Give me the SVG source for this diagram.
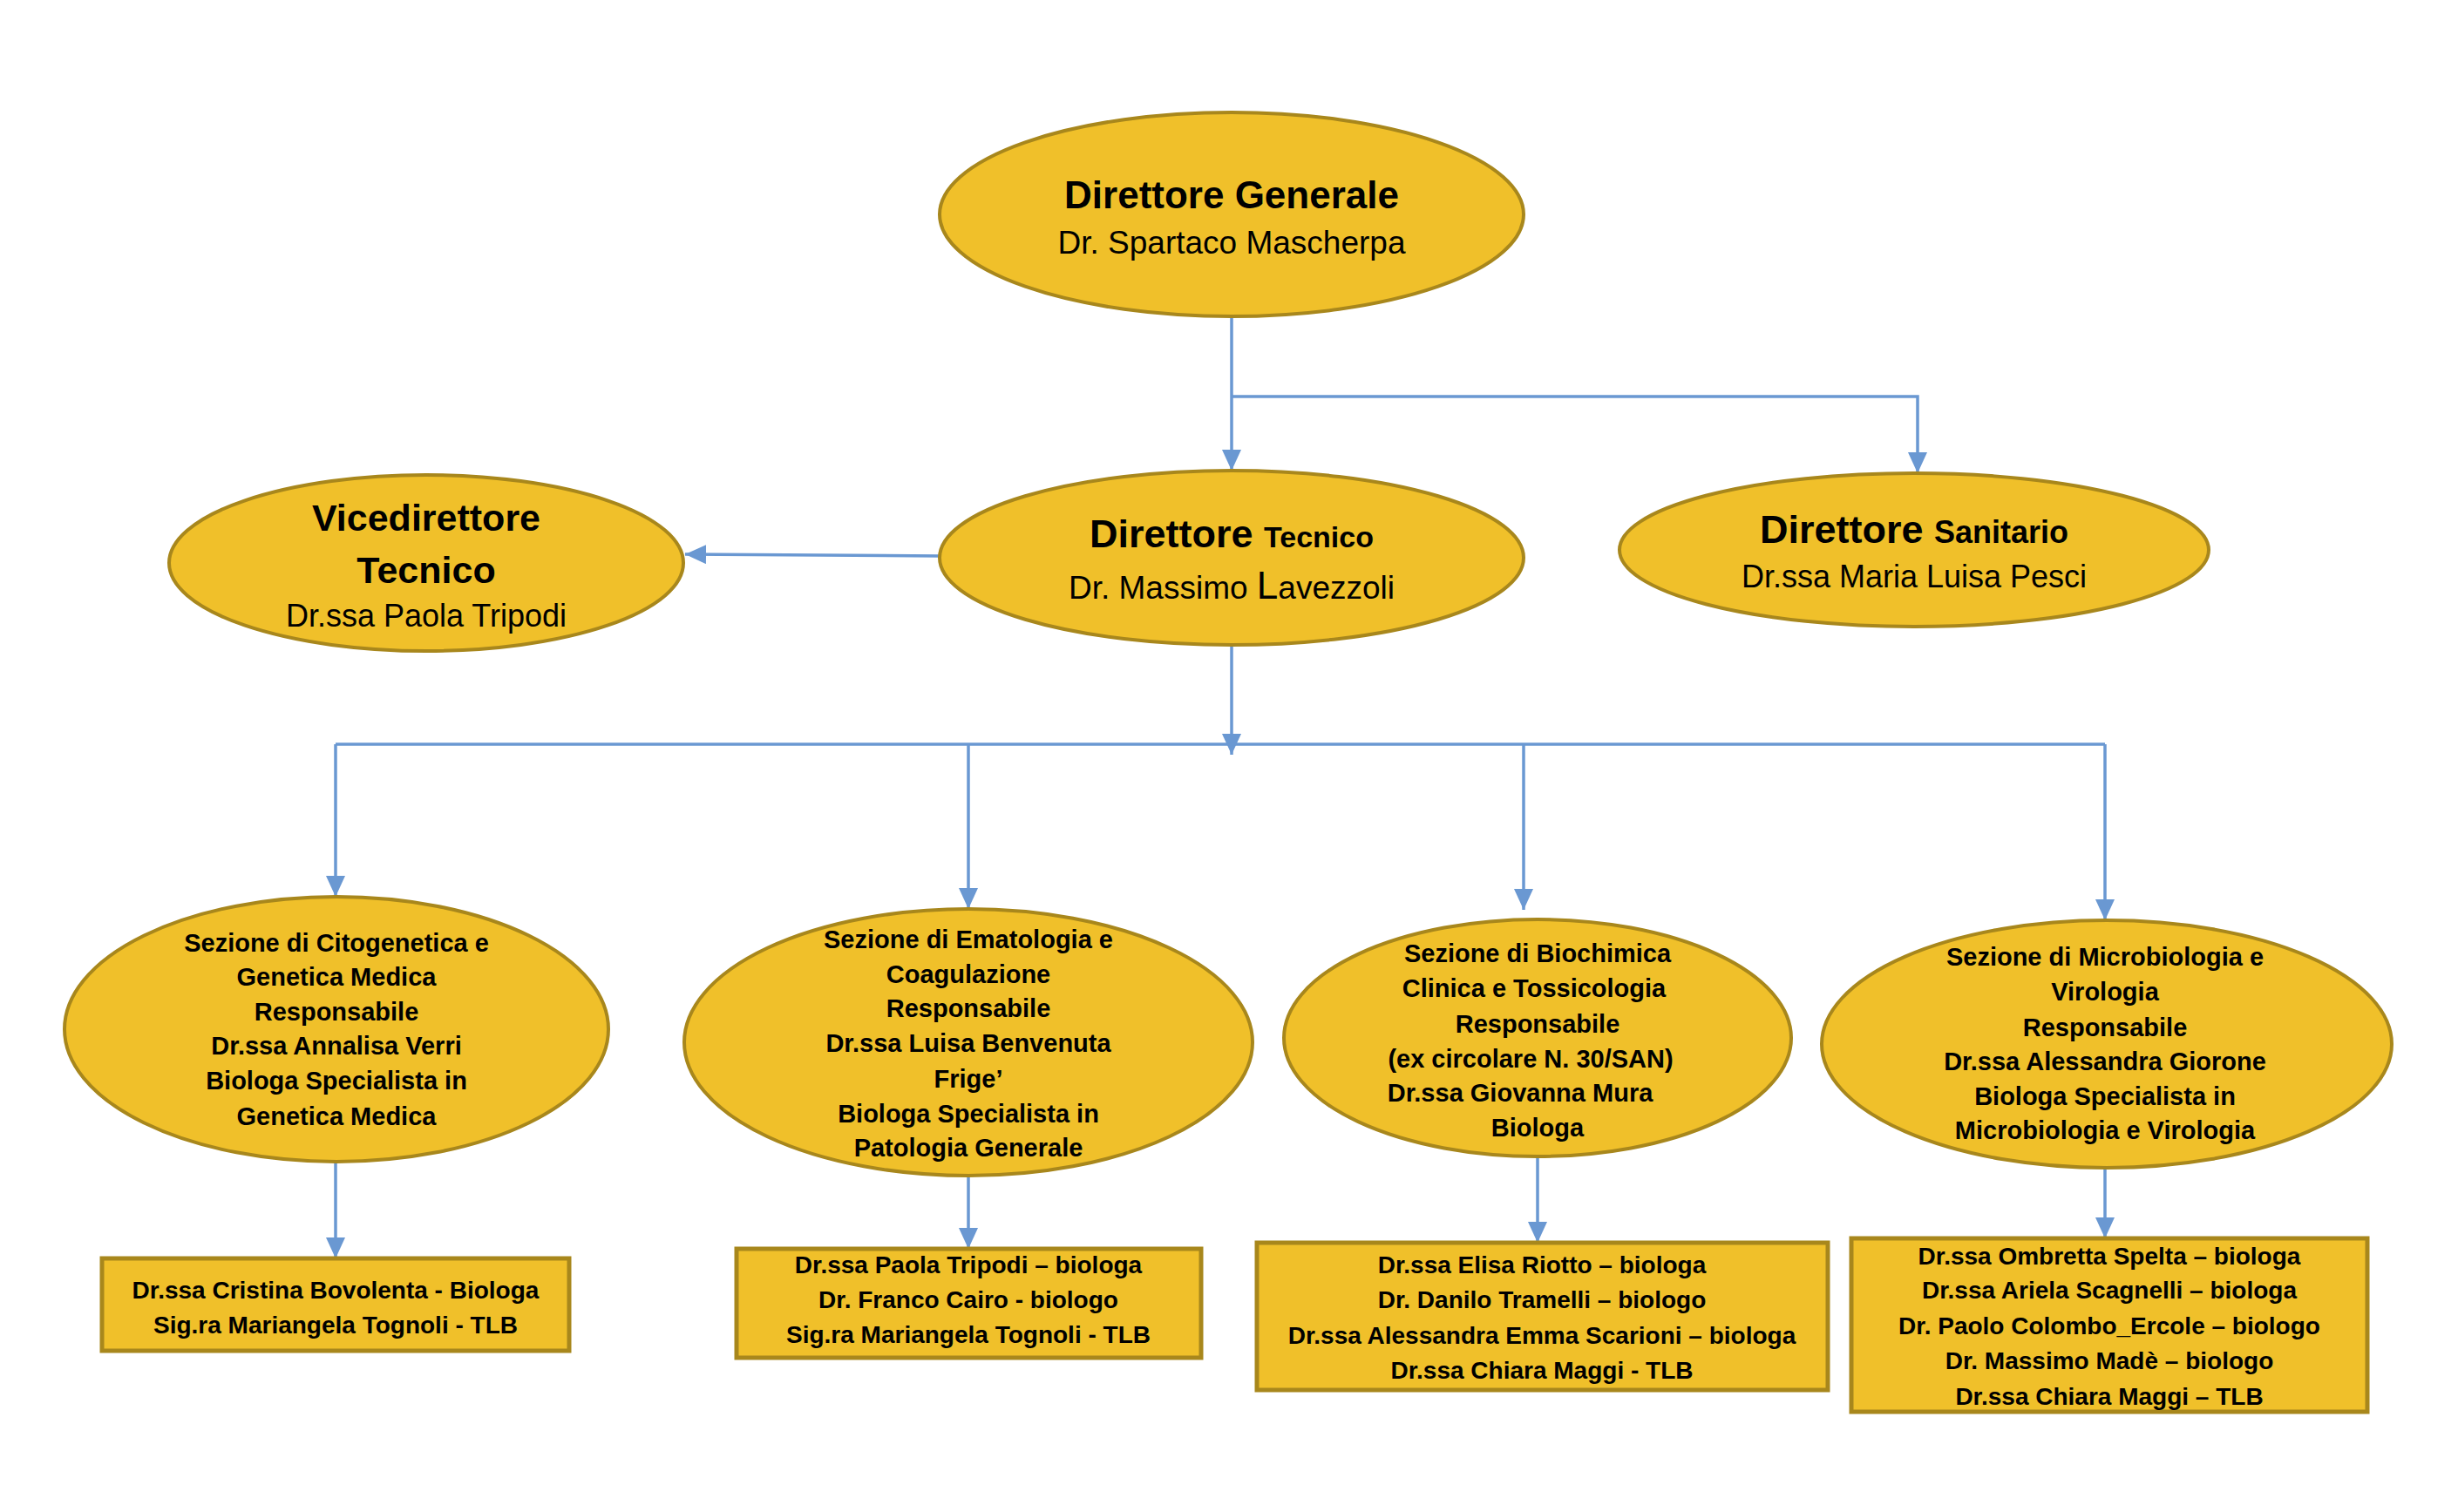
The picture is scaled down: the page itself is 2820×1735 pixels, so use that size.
<svg xmlns="http://www.w3.org/2000/svg" width="2820" height="1735" viewBox="0 0 2820 1735">
<defs>
<marker id="ah" markerUnits="userSpaceOnUse" markerWidth="24" markerHeight="22" refX="24" refY="11" orient="auto">
<path d="M0,0 L24,11 L0,22 Z" fill="#6A98D2"/>
</marker>
<style>
.el{fill:#F0C02A;stroke:#A8871C;stroke-width:4}
.bx{fill:#F0C02A;stroke:#A8871C;stroke-width:5}
.cn{fill:none;stroke:#6A98D2;stroke-width:3.5}
text{font-family:"Liberation Sans",Arial,sans-serif;fill:#000;text-anchor:middle}
.b{font-weight:bold}
.s{font-weight:bold;font-size:29px}
.t{font-weight:bold;font-size:28px}
</style>
</defs>
<rect width="2820" height="1735" fill="#fff"/>
<g id="connectors">
<line class="cn" x1="1413" y1="363" x2="1413" y2="540" marker-end="url(#ah)"/>
<path class="cn" d="M1413,455 H2200 V543" marker-end="url(#ah)"/>
<line class="cn" x1="1079" y1="638" x2="786" y2="636" marker-end="url(#ah)"/>
<line class="cn" x1="1413" y1="739" x2="1413" y2="866" marker-end="url(#ah)"/>
<path class="cn" d="M385,854 H2415"/>
<line class="cn" x1="385" y1="854" x2="385" y2="1029" marker-end="url(#ah)"/>
<line class="cn" x1="1111" y1="854" x2="1111" y2="1043" marker-end="url(#ah)"/>
<line class="cn" x1="1748" y1="854" x2="1748" y2="1044" marker-end="url(#ah)"/>
<line class="cn" x1="2415" y1="854" x2="2415" y2="1056" marker-end="url(#ah)"/>
<line class="cn" x1="385" y1="1333" x2="385" y2="1444" marker-end="url(#ah)"/>
<line class="cn" x1="1111" y1="1349" x2="1111" y2="1433" marker-end="url(#ah)"/>
<line class="cn" x1="1764" y1="1327" x2="1764" y2="1426" marker-end="url(#ah)"/>
<line class="cn" x1="2415" y1="1340" x2="2415" y2="1421" marker-end="url(#ah)"/>
</g>
<g id="direttore-generale">
<ellipse class="el" cx="1413" cy="246" rx="335" ry="117"/>
<text class="b" x="1413" y="239" font-size="44">Direttore Generale</text>
<text x="1413" y="291" font-size="37">Dr. Spartaco Mascherpa</text>
</g>
<g id="direttore-tecnico">
<ellipse class="el" cx="1413" cy="640" rx="335" ry="100"/>
<text class="b" x="1413" y="628" font-size="45">Direttore <tspan font-size="34">Tecnico</tspan></text>
<text x="1413" y="687" font-size="37">Dr. Massimo <tspan font-size="44">L</tspan>avezzoli</text>
</g>
<g id="vicedirettore-tecnico">
<ellipse class="el" cx="489" cy="646" rx="295" ry="101"/>
<text class="b" x="489" y="609" font-size="43">Vicedirettore</text>
<text class="b" x="489" y="669" font-size="43">Tecnico</text>
<text x="489" y="719" font-size="36">Dr.ssa Paola Tripodi</text>
</g>
<g id="direttore-sanitario">
<ellipse class="el" cx="2196" cy="631" rx="338" ry="88"/>
<text class="b" x="2196" y="623" font-size="45">Direttore <tspan font-size="36">Sanitario</tspan></text>
<text x="2196" y="674" font-size="36">Dr.ssa Maria Luisa Pesci</text>
</g>
<g id="sezione-citogenetica">
<ellipse class="el" cx="386" cy="1181" rx="312" ry="152"/>
<text class="s" x="386" y="1092">Sezione di Citogenetica e</text>
<text class="s" x="386" y="1131">Genetica Medica</text>
<text class="s" x="386" y="1171">Responsabile</text>
<text class="s" x="386" y="1210">Dr.ssa Annalisa Verri</text>
<text class="s" x="386" y="1250">Biologa Specialista in</text>
<text class="s" x="386" y="1291">Genetica Medica</text>
</g>
<g id="sezione-ematologia">
<ellipse class="el" cx="1111" cy="1196" rx="326" ry="153"/>
<text class="s" x="1111" y="1088">Sezione di Ematologia e</text>
<text class="s" x="1111" y="1128">Coagulazione</text>
<text class="s" x="1111" y="1167">Responsabile</text>
<text class="s" x="1111" y="1207">Dr.ssa Luisa Benvenuta</text>
<text class="s" x="1111" y="1248">Frige’</text>
<text class="s" x="1111" y="1288">Biologa Specialista in</text>
<text class="s" x="1111" y="1327">Patologia Generale</text>
</g>
<g id="sezione-biochimica">
<ellipse class="el" cx="1764" cy="1191" rx="291" ry="136"/>
<text class="s" x="1764" y="1104">Sezione di Biochimica</text>
<text class="s" x="1760" y="1144">Clinica e Tossicologia</text>
<text class="s" x="1764" y="1185">Responsabile</text>
<text class="s" x="1756" y="1225">(ex circolare N. 30/SAN)</text>
<text class="s" x="1744" y="1264">Dr.ssa Giovanna Mura</text>
<text class="s" x="1764" y="1304">Biologa</text>
</g>
<g id="sezione-microbiologia">
<ellipse class="el" cx="2417" cy="1198" rx="327" ry="142"/>
<text class="s" x="2415" y="1108">Sezione di Microbiologia e</text>
<text class="s" x="2415" y="1148">Virologia</text>
<text class="s" x="2415" y="1189">Responsabile</text>
<text class="s" x="2415" y="1228">Dr.ssa Alessandra Giorone</text>
<text class="s" x="2415" y="1268">Biologa Specialista in</text>
<text class="s" x="2415" y="1307">Microbiologia e Virologia</text>
</g>
<g id="staff-citogenetica">
<rect class="bx" x="117" y="1444" width="536" height="106"/>
<text class="t" x="385" y="1490">Dr.ssa Cristina Bovolenta - Biologa</text>
<text class="t" x="385" y="1530">Sig.ra Mariangela Tognoli - TLB</text>
</g>
<g id="staff-ematologia">
<rect class="bx" x="845" y="1433" width="533" height="125"/>
<text class="t" x="1111" y="1461">Dr.ssa Paola Tripodi – biologa</text>
<text class="t" x="1111" y="1501">Dr. Franco Cairo - biologo</text>
<text class="t" x="1111" y="1541">Sig.ra Mariangela Tognoli - TLB</text>
</g>
<g id="staff-biochimica">
<rect class="bx" x="1442" y="1426" width="655" height="169"/>
<text class="t" x="1769" y="1461">Dr.ssa Elisa Riotto – biologa</text>
<text class="t" x="1769" y="1501">Dr. Danilo Tramelli – biologo</text>
<text class="t" x="1769" y="1542">Dr.ssa Alessandra Emma Scarioni – biologa</text>
<text class="t" x="1769" y="1582">Dr.ssa Chiara Maggi - TLB</text>
</g>
<g id="staff-microbiologia">
<rect class="bx" x="2124" y="1421" width="592" height="199"/>
<text class="t" x="2420" y="1451">Dr.ssa Ombretta Spelta – biologa</text>
<text class="t" x="2420" y="1490">Dr.ssa Ariela Scagnelli – biologa</text>
<text class="t" x="2420" y="1531">Dr. Paolo Colombo_Ercole – biologo</text>
<text class="t" x="2420" y="1571">Dr. Massimo Madè – biologo</text>
<text class="t" x="2420" y="1612">Dr.ssa Chiara Maggi – TLB</text>
</g>
</svg>
